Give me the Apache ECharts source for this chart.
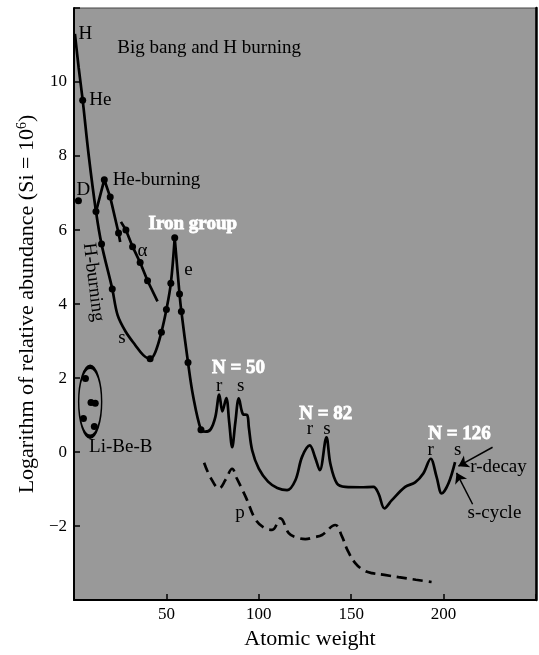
<!DOCTYPE html>
<html>
<head>
<meta charset="utf-8">
<script src="https://cdn.jsdelivr.net/npm/echarts@6/dist/echarts.min.js"></script>
<style>
  html, body { margin: 0; padding: 0; background: #fff; }
  #chart { width: 539px; height: 655px; }
</style>
</head>
<body>
<div id="chart"></div>
<script>
// abundance curve, H down to the iron peak
var mainRise = [[0.5, 11.3], [2.5, 10.4], [4.7, 9.51], [8, 8.0], [11.9, 6.5], [14.9, 5.62], [20.7, 4.41],
    [23.6, 3.7], [28, 3.25], [33, 2.9], [37.5, 2.62], [41.2, 2.52], [44, 2.7], [47.3, 3.24], [50, 3.85],
    [52.4, 4.56], [54.5, 5.79]];
// from the iron peak to the end (s-process)
var mainFall = [[54.5, 5.79], [57.1, 4.27], [58.1, 3.8], [61.7, 2.42], [64.5, 1.5], [68.7, 0.6], [71, 0.55],
    [74, 0.62], [76.5, 0.95], [78.6, 1.55], [80.3, 1.1], [82.4, 1.46], [84, 0.8], [85.6, 0.13], [87.3, 0.8],
    [89.2, 1.45], [91.5, 1.02], [93.7, 1.0], [94.6, 0.67], [96.4, 0.05], [100, -0.45], [105, -0.8],
    [110, -0.97], [115.3, -1.03], [119.8, -0.76], [123.4, -0.13], [127.6, 0.18], [130.5, -0.15],
    [133, -0.49], [136.6, 0.4], [138.7, -0.31], [142.3, -0.85], [146.8, -0.94], [155, -0.95], [162, -0.94],
    [164.8, -1.12], [168, -1.52], [172, -1.3], [179.2, -0.94], [184.6, -0.82], [189, -0.58], [193, -0.18],
    [196.2, -0.67], [199, -1.12], [202.6, -0.85], [206.2, -0.27]];
var heBurning = [[11.9, 6.5], [16.4, 7.36], [19.6, 6.89], [24.1, 5.92], [25, 5.68]];
var alphaLine = [[25.4, 6.22], [28.1, 6.0], [31.7, 5.55], [35.8, 5.12], [39.8, 4.63], [45.2, 4.07]];
var pProcess = [[70.4, -0.29], [74, -0.7], [78.5, -0.98], [82, -0.75], [85.6, -0.45], [88, -0.7],
    [92.9, -1.21], [98.3, -1.83], [103, -2.05], [107.2, -2.1], [111.7, -1.79], [116.2, -2.19], [120, -2.3],
    [125.2, -2.35], [130, -2.3], [134.2, -2.24], [141.4, -1.97], [145, -2.28], [148, -2.65], [152.2, -3.0],
    [157, -3.2], [161.2, -3.27], [168, -3.32], [175.6, -3.38], [185, -3.45], [193.5, -3.51]];

// measured dots
var curveDots = [[4.7, 9.51], [11.9, 6.5], [14.9, 5.62], [20.7, 4.41], [41.2, 2.52], [47.3, 3.24], [50, 3.85],
    [52.4, 4.56], [54.5, 5.79], [57.1, 4.27], [58.1, 3.8], [61.7, 2.42], [68.7, 0.6]];
var heDots = [[16.4, 7.36], [19.6, 6.89], [24.1, 5.92]];
var alphaDots = [[28.1, 6.0], [31.7, 5.55], [35.8, 5.12], [39.8, 4.63]];
var deuterium = [[2.4, 6.79]];
var liBeB = [[6.2, 1.99], [9.2, 1.34], [11.5, 1.32], [5.1, 0.91], [11, 0.69]];
var liBeBCenter = [8.74, 1.36];

var arrows = [
    [[226.5, 0.13], [208.0, -0.38]],
    [[215.7, -1.41], [207.0, -0.56]]
];

// annotations [x, y, text]
var plainLabels = [
    [6.15, 11.3, 'H'], [73.1, 10.93, 'Big bang and H burning'], [14.2, 9.51, 'He'], [5.07, 7.09, 'D'],
    [44.6, 7.36, 'He-burning'], [37.1, 5.44, 'α'], [61.9, 4.92, 'e'], [25.95, 3.09, 's'],
    [25.3, 0.15, 'Li-Be-B'], [78.5, 1.79, 'r'], [90.2, 1.79, 's'], [89.8, -1.66, 'p'],
    [127.6, 0.63, 'r'], [136.9, 0.63, 's'], [193, 0.05, 'r'], [207.6, 0.05, 's'],
    [229.7, -0.4, 'r-decay'], [227.5, -1.64, 's-cycle']
];
var whiteLabels = [
    [64.3, 6.17, 'Iron group'], [89.0, 2.28, 'N = 50'], [136.2, 1.03, 'N = 82'], [208.6, 0.49, 'N = 126']
];
var slantLabels = [[10.5, 4.59, 'H-burning']];

var xTicks = { min: 0, max: 250, step: 50 };
var yTicks = { min: -4, max: 12, step: 2 };

var serif = "'Liberation Serif', 'Times New Roman', serif";
var chart = echarts.init(document.getElementById('chart'));

function curve(data, smooth, dashed) {
    return {
        type: 'line',
        data: data,
        smooth: smooth,
        showSymbol: false,
        silent: true,
        lineStyle: { color: '#000', width: 2.7, type: dashed ? [10, 6] : 'solid' },
        z: 3
    };
}

var labelData = [];
plainLabels.forEach(function (l) {
    labelData.push({ name: l[2], value: [l[0], l[1]] });
});
whiteLabels.forEach(function (l) {
    labelData.push({
        name: l[2], value: [l[0], l[1]],
        label: { color: '#fff', fontWeight: 'bold', fontSize: 19, textBorderColor: '#fff', textBorderWidth: 0.8 }
    });
});
slantLabels.forEach(function (l) {
    labelData.push({ name: l[2], value: [l[0], l[1]], label: { rotate: -83 } });
});

var option = {
    animation: false,
    grid: {
        left: 74, right: 1, top: 8, bottom: 51,
        show: true, backgroundColor: '#999999', borderColor: '#444', borderWidth: 1
    },
    xAxis: {
        type: 'value',
        min: xTicks.min, max: xTicks.max, interval: xTicks.step,
        name: 'Atomic weight',
        nameLocation: 'middle',
        nameGap: 21,
        nameTextStyle: { fontFamily: serif, fontSize: 22, color: '#000', padding: [0, 0, 0, 10] },
        axisLine: { show: true, onZero: false, lineStyle: { color: '#000', width: 2 } },
        axisTick: { inside: true, length: 6, lineStyle: { color: '#000', width: 1.5 } },
        axisLabel: {
            fontFamily: serif, fontSize: 17, color: '#000', margin: 6,
            formatter: function (v) { return (v === xTicks.min || v === xTicks.max) ? '' : String(v); }
        },
        splitLine: { show: false }
    },
    yAxis: [{
        type: 'value',
        min: yTicks.min, max: yTicks.max, interval: yTicks.step,
        name: '{t|Logarithm of relative abundance (Si = 10}{sup|6}{t|)}',
        nameLocation: 'middle',
        nameGap: 36,
        nameTextStyle: {
            fontFamily: serif, fontSize: 22, color: '#000',
            rich: {
                t: { fontFamily: serif, fontSize: 22, color: '#000', verticalAlign: 'bottom' },
                sup: { fontFamily: serif, fontSize: 14, color: '#000', verticalAlign: 'bottom', padding: [0, 0, 9, 0] }
            }
        },
        axisLine: { show: true, onZero: false, lineStyle: { color: '#000', width: 2 } },
        axisTick: { inside: true, length: 6, lineStyle: { color: '#000', width: 1.5 } },
        axisLabel: {
            fontFamily: serif, fontSize: 17, color: '#000', margin: 7,
            formatter: function (v) {
                if (v === yTicks.min || v === yTicks.max) return '';
                return v < 0 ? '\u2212' + Math.abs(v) : String(v);
            }
        },
        splitLine: { show: false }
    }, {
        type: 'value',
        position: 'right',
        min: yTicks.min, max: yTicks.max,
        axisLine: { show: true, onZero: false, lineStyle: { color: '#000', width: 2.5 } },
        axisTick: { show: false },
        axisLabel: { show: false },
        splitLine: { show: false }
    }],
    series: [
        curve(mainRise, 0.35),
        curve(mainFall, 0.35),
        curve(heBurning, false),
        curve(alphaLine, false),
        curve(pProcess, 0.4, true),
        {
            type: 'scatter',
            data: curveDots.concat(heDots, alphaDots, deuterium, liBeB),
            symbol: 'circle',
            symbolSize: 7,
            itemStyle: { color: '#000', opacity: 1 },
            silent: true,
            z: 4
        },
        {
            type: 'scatter',
            data: [liBeBCenter],
            symbol: 'circle',
            symbolSize: [23, 70],
            itemStyle: { color: 'rgba(0,0,0,0)', borderColor: '#000', borderWidth: 2.5, opacity: 1 },
            silent: true,
            z: 4
        },
        {
            type: 'lines',
            coordinateSystem: 'cartesian2d',
            data: arrows.map(function (a) { return { coords: a }; }),
            symbol: ['none', 'arrow'],
            symbolSize: 10,
            lineStyle: { color: '#000', width: 1.5, opacity: 1 },
            silent: true,
            z: 4
        },
        {
            type: 'scatter',
            data: labelData,
            symbolSize: 1,
            itemStyle: { color: 'rgba(0,0,0,0)', opacity: 1 },
            silent: true,
            label: {
                show: true,
                position: 'inside',
                formatter: '{b}',
                fontFamily: serif,
                fontSize: 19,
                color: '#000'
            },
            z: 5
        }
    ]
};

chart.setOption(option);
</script>
</body>
</html>
